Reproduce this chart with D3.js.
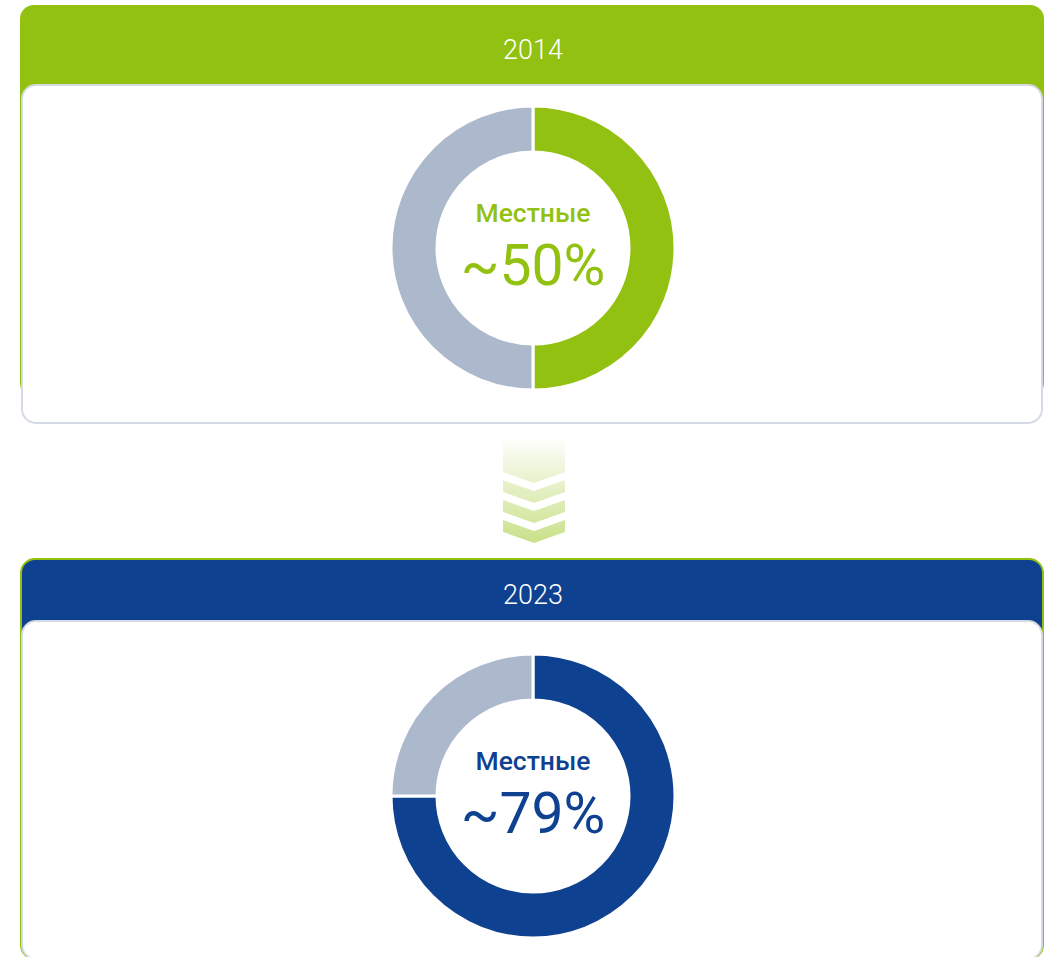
<!DOCTYPE html>
<html>
<head>
<meta charset="utf-8">
<script src="https://cdn.jsdelivr.net/npm/d3@7.9.0/dist/d3.min.js"></script>
<style>
  html, body { margin: 0; padding: 0; background: #fff; }
  svg { display: block; font-family: Roboto, "Noto Sans", sans-serif; }
</style>
</head>
<body>
<svg id="chart" width="1053" height="957"></svg>
<script>
// data
const years = ['2014', '2023'];
const localShare = [50, 75];          // share of the ring drawn as "local"
const labelValues = ['~50%', '~79%']; // numbers printed in the middle
const centerLabel = 'Местные';
const mainColors = ['#93c111', '#0f4191'];
const restColor = '#acb8cb';

const svg = d3.select('#chart');
const defs = svg.append('defs');

// panel layout
const panels = [
  { top: 5, textY: 50, cardTop: 85, greenH: 392, cy: 248, outline: false },
  { top: 558, textY: 595, cardTop: 621, greenH: 400, cy: 796, outline: true }
];
const left = 20, right = 1044, cardH = 338, rad = 14;

const pie = d3.pie().sort(null).value(d => d.value);
const arc = d3.arc().innerRadius(96).outerRadius(142);

panels.forEach((p, i) => {
  const g = svg.append('g');
  const col = mainColors[i];

  // coloured header block
  g.append('rect')
    .attr('x', left + (p.outline ? 1 : 0)).attr('y', p.top + (p.outline ? 1 : 0))
    .attr('width', right - left - (p.outline ? 2 : 0))
    .attr('height', p.greenH)
    .attr('rx', rad)
    .attr('fill', col)
    .attr('stroke', p.outline ? mainColors[0] : 'none')
    .attr('stroke-width', 2);

  g.append('text')
    .attr('x', (left + right) / 2 + 1)
    .attr('y', p.textY)
    .attr('text-anchor', 'middle')
    .attr('dominant-baseline', 'central')
    .attr('fill', '#fff')
    .attr('font-size', 27)
    .attr('font-weight', 300)
    .text(years[i]);

  // white card
  g.append('rect')
    .attr('x', left + 2).attr('y', p.cardTop)
    .attr('width', right - left - 4)
    .attr('height', cardH)
    .attr('rx', rad)
    .attr('fill', '#fff')
    .attr('stroke', '#d3dae3')
    .attr('stroke-width', 2);

  // donut
  const data = [
    { key: 'local', value: localShare[i] },
    { key: 'other', value: 100 - localShare[i] }
  ];
  const donut = g.append('g').attr('transform', `translate(533,${p.cy})`);
  donut.selectAll('path')
    .data(pie(data))
    .join('path')
    .attr('d', arc)
    .attr('fill', d => d.data.key === 'local' ? col : restColor)
    .attr('stroke', '#fff')
    .attr('stroke-width', 3);

  donut.append('text')
    .attr('y', -26)
    .attr('text-anchor', 'middle')
    .attr('fill', col)
    .attr('font-size', 26.5)
    .attr('font-weight', 500)
    .text(centerLabel);

  donut.append('text')
    .attr('y', 37)
    .attr('text-anchor', 'middle')
    .attr('fill', col)
    .attr('font-size', 57)
    .text(labelValues[i]);
});

// chevron arrow between the panels, one fade running top to bottom
defs.append('linearGradient')
  .attr('id', 'arrowGrad')
  .attr('gradientUnits', 'userSpaceOnUse')
  .attr('x1', 0).attr('y1', 440).attr('x2', 0).attr('y2', 544)
  .call(gr => {
    gr.append('stop').attr('offset', 0).attr('stop-color', '#93c111').attr('stop-opacity', 0.02);
    gr.append('stop').attr('offset', 1).attr('stop-color', '#93c111').attr('stop-opacity', 0.5);
  });

const ax0 = 503, ax1 = 565, amid = (ax0 + ax1) / 2, depth = 11;
const chevrons = [
  { top: 440, flat: true, side: 472 },
  { top: 480, flat: false, side: 492 },
  { top: 500, flat: false, side: 512 },
  { top: 520, flat: false, side: 532 }
];
const arrow = svg.append('g');
chevrons.forEach(c => {
  const path = d3.path();
  path.moveTo(ax0, c.top);
  if (c.flat) path.lineTo(ax1, c.top);
  else { path.lineTo(amid, c.top + depth); path.lineTo(ax1, c.top); }
  path.lineTo(ax1, c.side);
  path.lineTo(amid, c.side + depth);
  path.lineTo(ax0, c.side);
  path.closePath();
  arrow.append('path').attr('d', path.toString()).attr('fill', 'url(#arrowGrad)');
});
</script>
</body>
</html>
